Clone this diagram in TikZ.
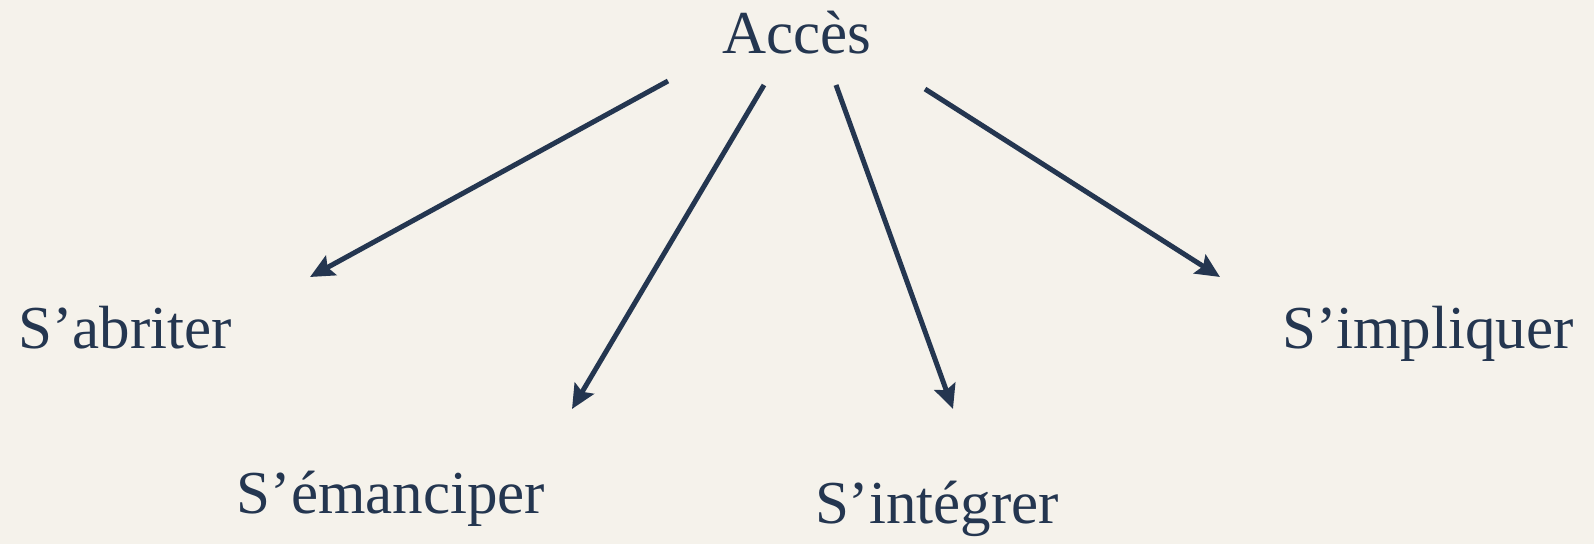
\documentclass[tikz,border=0pt]{standalone}
\usepackage{fontspec}
\setmainfont{Liberation Serif}
\usetikzlibrary{arrows.meta}
\definecolor{bg}{HTML}{F5F2EB}
\definecolor{ink}{HTML}{243650}
\begin{document}
\begin{tikzpicture}[x=1pt,y=-1pt,
  lbl/.style={anchor=base,text=ink,inner sep=0pt,font=\fontsize{61}{64}\selectfont},
  arr/.style={draw=ink,line width=5pt,-{Stealth[length=24pt,width=22pt,inset=4pt]}}]
\fill[bg] (0,0) rectangle (1594,544);
\useasboundingbox (0,0) rectangle (1594,544);
\node[lbl] (acces) at (797,53) {Accès};
\node[lbl] (abriter) at (125,348) {S’abriter};
\node[lbl] (emanciper) at (391,513) {S’émanciper};
\node[lbl] (integrer) at (937,523) {S’intégrer};
\node[lbl] (impliquer) at (1428,348) {S’impliquer};
\coordinate (s1) at (668,81);
\coordinate (s2) at (764,85);
\coordinate (s3) at (836,85);
\coordinate (s4) at (925,89);
\coordinate (e1) at (310,277);
\coordinate (e2) at (572,409);
\coordinate (e3) at (953,409);
\coordinate (e4) at (1220,277);
\draw[arr] (s1) -- (e1);
\draw[arr] (s2) -- (e2);
\draw[arr] (s3) -- (e3);
\draw[arr] (s4) -- (e4);
\end{tikzpicture}
\end{document}
